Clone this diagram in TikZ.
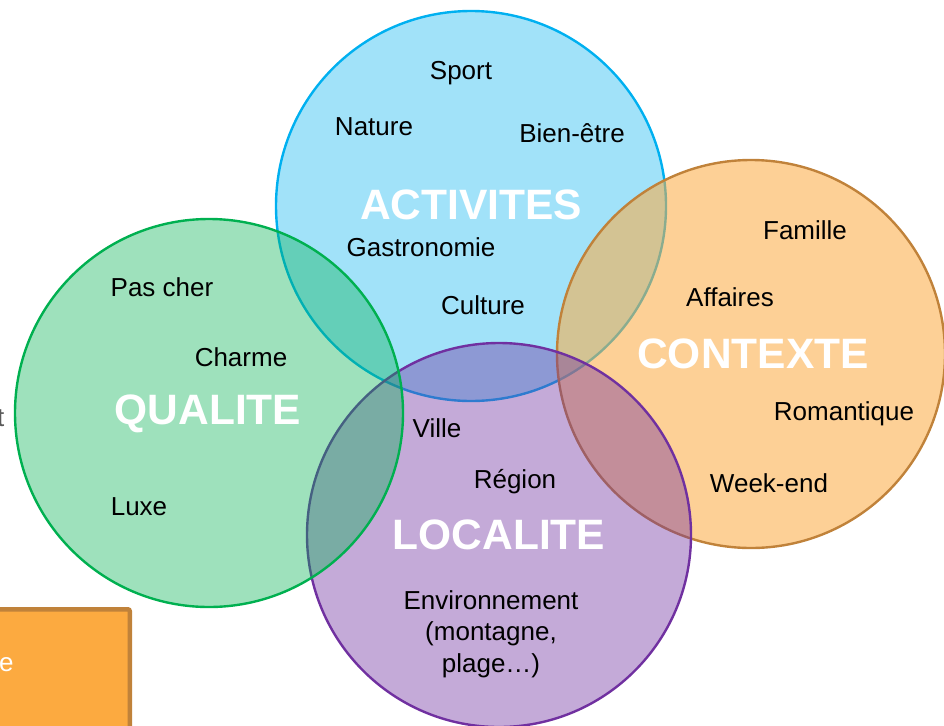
\documentclass[tikz,border=0pt]{standalone}
\usepackage{fontspec}
\setmainfont{Liberation Sans}
\begin{document}
\definecolor{actline}{HTML}{00B0F0}
\definecolor{actfill}{HTML}{00B0F0}
\definecolor{qualline}{HTML}{00B050}
\definecolor{qualfill}{HTML}{00B050}
\definecolor{locline}{HTML}{7030A0}
\definecolor{locfill}{HTML}{7030A0}
\definecolor{ctxline}{HTML}{C0823A}
\definecolor{ctxfill}{HTML}{FCAA40}
\definecolor{boxfill}{HTML}{FCAA40}
\definecolor{greytext}{HTML}{595959}
\begin{tikzpicture}[x=1pt,y=-1pt,
  circ/.style={circle, minimum size=#1, inner sep=0pt, line width=2.4pt},
  title/.style={text=white, font=\fontsize{42.5}{46}\selectfont\bfseries},
  lbl/.style={text=black, font=\fontsize{26}{31.5}\selectfont, align=center},
]
\useasboundingbox (0,0) rectangle (944,725);
\clip (0,0) rectangle (944,725);
% circles (drawing order matters for overlaps)
\node[circ=390pt, draw=actline, fill=actfill, fill opacity=0.37] (act) at (471,206) {};
\node[circ=388pt, draw=ctxline, fill=ctxfill, fill opacity=0.55] (ctx) at (751,354) {};
\node[circ=384pt, draw=locline, fill=locfill, fill opacity=0.41] (loc) at (499,535) {};
\node[circ=388pt, draw=qualline, fill=qualfill, fill opacity=0.38] (qual) at (209,413) {};
% orange box at bottom left
\node[draw=ctxline, fill=boxfill, line width=4.5pt, rounded corners=2pt, minimum width=160pt, minimum height=140pt, inner sep=0pt, anchor=north east] (box) at (132,607) {};
\node[text=white, font=\fontsize{26}{30}\selectfont, anchor=west, inner sep=0pt] (boxe) at (-1,665) {e};
\node[text=greytext, font=\fontsize{26}{30}\selectfont, anchor=west, inner sep=0pt] (leftt) at (-3,418) {t};
% titles
\node[title] (tact) at (471,205) {ACTIVITES};
\node[title] (tctx) at (753,354) {CONTEXTE};
\node[title] (tqual) at (208,414) {QUALITE};
\node[title] (tloc) at (499,535) {LOCALITE};
% activites labels
\node[lbl] (sport) at (461,73) {Sport};
\node[lbl] (nature) at (374,127) {Nature};
\node[lbl] (bien) at (572,133) {Bien-être};
\node[lbl] (gastro) at (421,247) {Gastronomie};
\node[lbl] (culture) at (483,305) {Culture};
% contexte labels
\node[lbl] (famille) at (805,230) {Famille};
\node[lbl] (affaires) at (730,297) {Affaires};
\node[lbl] (romant) at (844,414) {Romantique};
\node[lbl] (weekend) at (769,483) {Week-end};
% qualite labels
\node[lbl] (pascher) at (162,287) {Pas cher};
\node[lbl] (charme) at (241,357) {Charme};
\node[lbl] (luxe) at (139,507) {Luxe};
% localite labels
\node[lbl] (ville) at (437,428) {Ville};
\node[lbl] (region) at (515,482) {Région};
\node[lbl] (env) at (491,634) {Environnement\\(montagne,\\plage…)};
\end{tikzpicture}
\end{document}
